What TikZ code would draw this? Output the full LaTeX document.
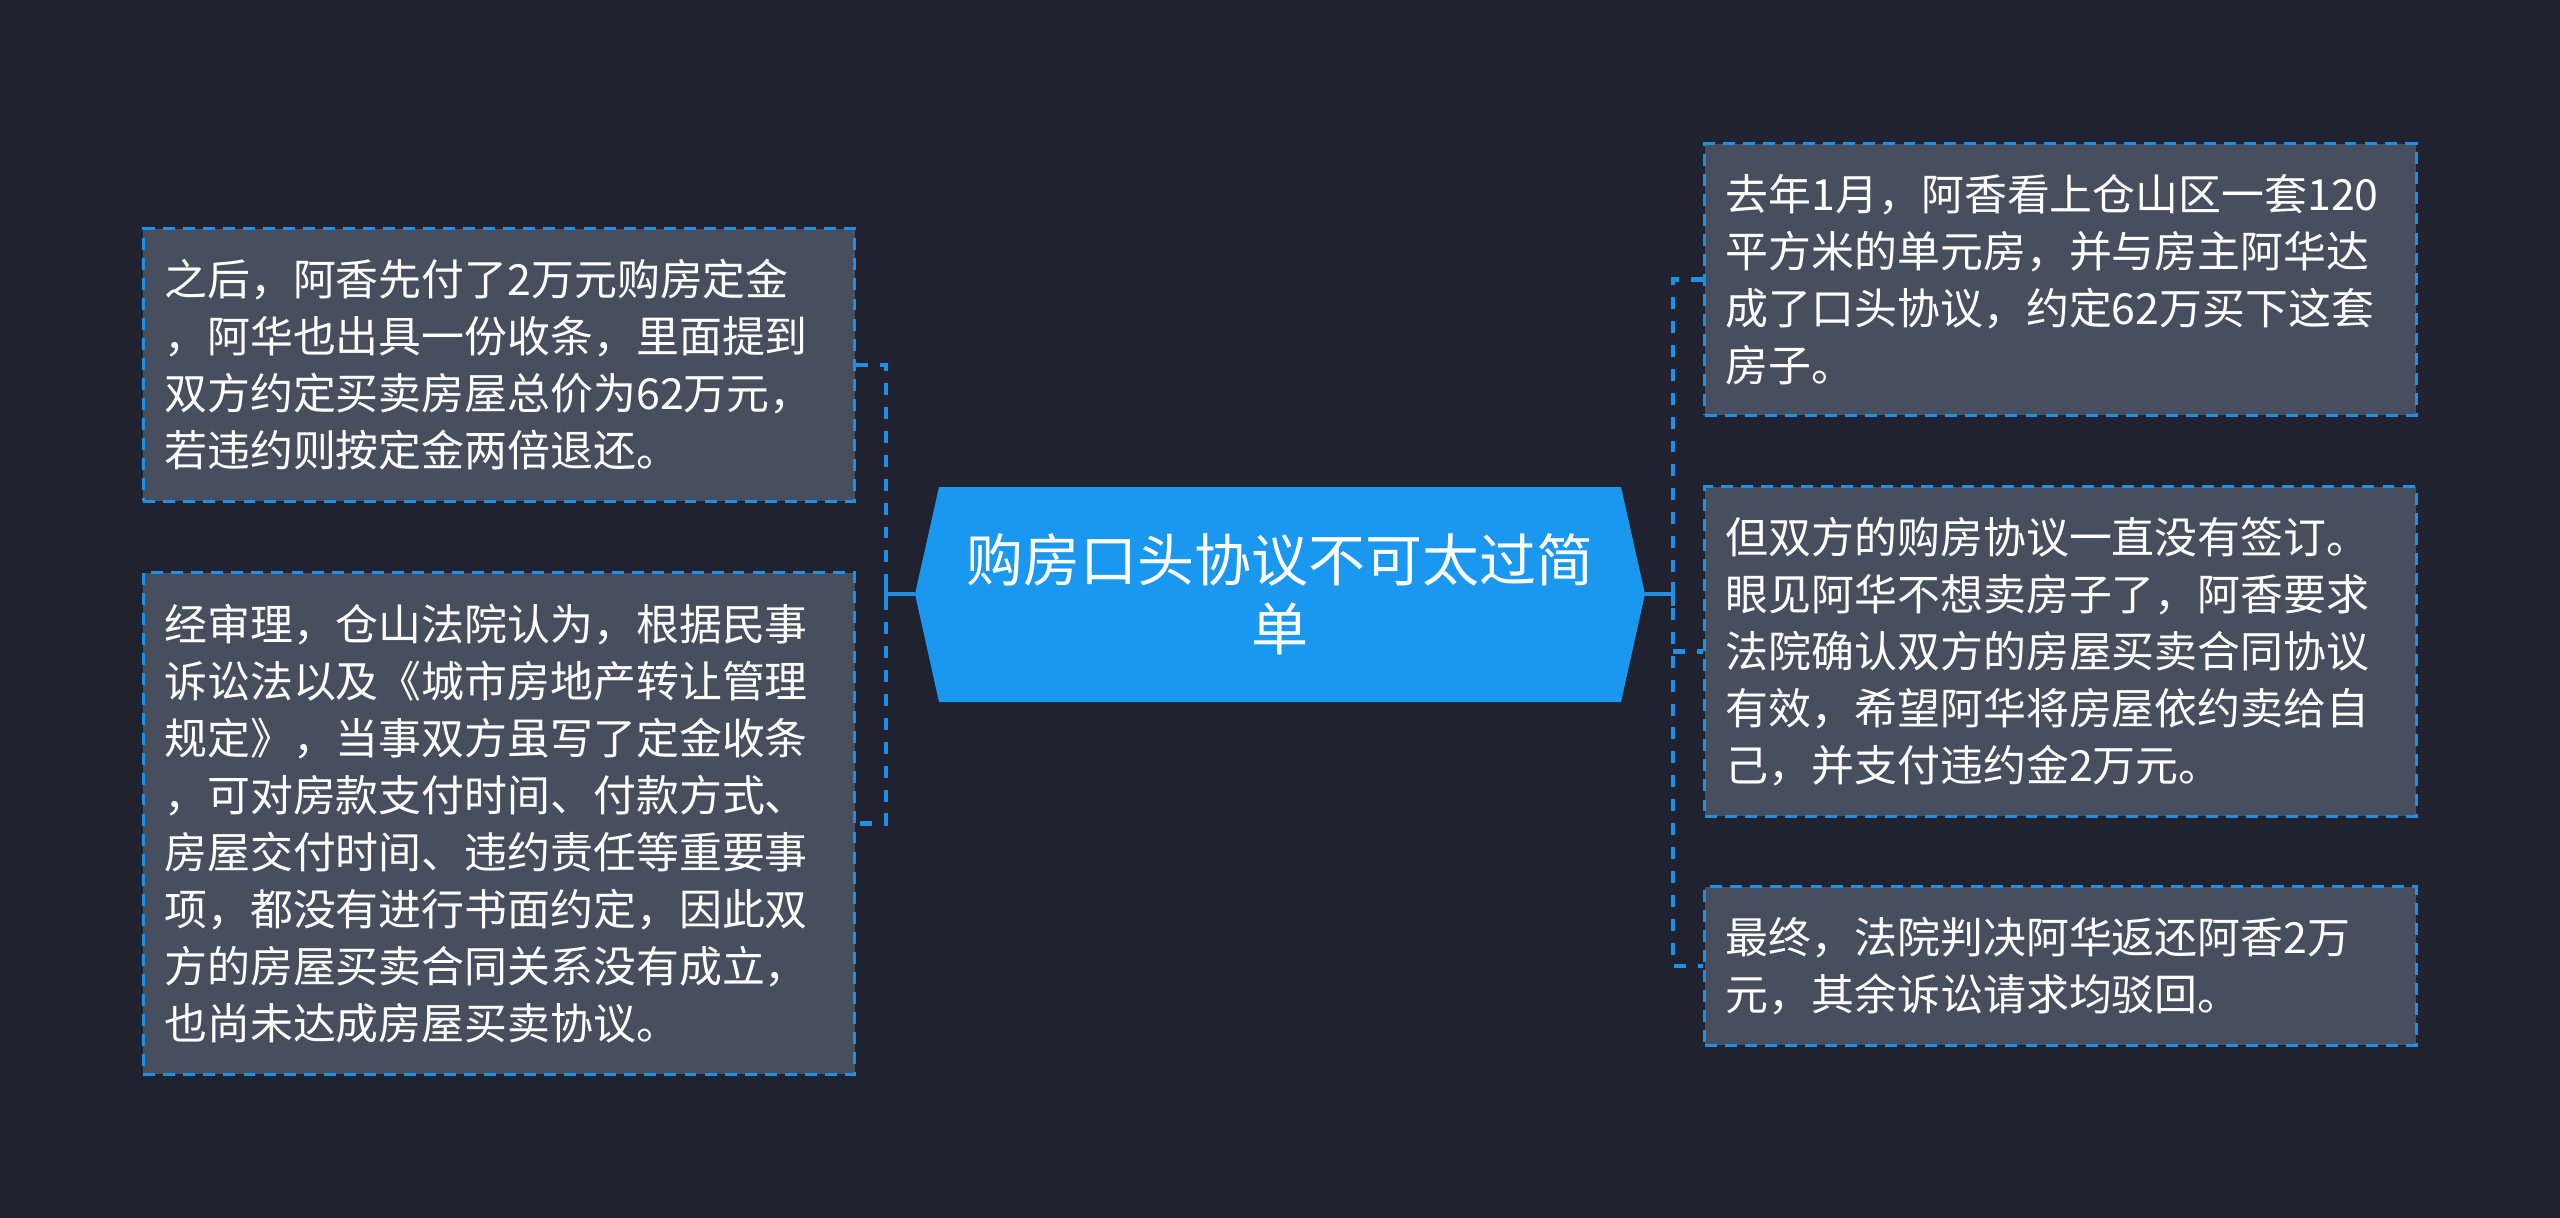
\documentclass[tikz,border=0pt]{standalone}
\usepackage{fontspec}
\setmainfont{Noto Sans CJK SC}
\usetikzlibrary{positioning}
\definecolor{bg}{HTML}{20232F}
\definecolor{cardgray}{HTML}{474E5D}
\definecolor{wire}{HTML}{1E90E6}
\definecolor{hubblue}{HTML}{1A98F0}

\begin{document}
\begin{tikzpicture}[x=0.01cm, y=-0.01cm,
  card/.style={draw=wire, fill=cardgray, line width=0.85pt, dash pattern=on 3.4pt off 2.3pt,
    text=white, align=left, text width=6.69cm, inner xsep=0.21cm, inner ysep=0pt,
    font=\fontsize{12.2pt}{16.2pt}\selectfont},
  hub/.style={text=white, align=center, inner sep=0pt, font=\fontsize{16.2pt}{19.5pt}\selectfont},
  stem/.style={draw=wire, line width=1.4pt},
  trunk/.style={draw=wire, line width=1.4pt, dash pattern=on 3.4pt off 3.4pt}
]
% canvas
\fill[bg] (0,0) rectangle (2560,1218);
\useasboundingbox (0,0) rectangle (2560,1218);
% central topic
\fill[hubblue] (915,594) -- (939,487) -- (1621,487) -- (1645,594) -- (1621,702) -- (939,702) -- cycle;
\node[hub] (hub) at (1280,594) {购房口头协议不可太过简\\单};
\coordinate (hubW) at (915,594);
\coordinate (hubE) at (1645,594);
% left cards
\node[card, minimum height=2.72cm] (lt) at (499,365) {之后，阿香先付了2万元购房定金\\，阿华也出具一份收条，里面提到\\双方约定买卖房屋总价为62万元，\\若违约则按定金两倍退还。};
\node[card, minimum height=5.01cm] (lb) at (499,823.5) {经审理，仓山法院认为，根据民事\\诉讼法以及《城市房地产转让管理\\规定》，当事双方虽写了定金收条\\，可对房款支付时间、付款方式、\\房屋交付时间、违约责任等重要事\\项，都没有进行书面约定，因此双\\方的房屋买卖合同关系没有成立，\\也尚未达成房屋买卖协议。};
% right cards
\node[card, minimum height=2.71cm] (rt) at (2060.5,279.5) {去年1月，阿香看上仓山区一套120\\平方米的单元房，并与房主阿华达\\成了口头协议，约定62万买下这套\\房子。};
\node[card, minimum height=3.29cm] (rm) at (2060.5,651.5) {但双方的购房协议一直没有签订。\\眼见阿华不想卖房子了，阿香要求\\法院确认双方的房屋买卖合同协议\\有效，希望阿华将房屋依约卖给自\\己，并支付违约金2万元。};
\node[card, minimum height=1.58cm] (rb) at (2060.5,966) {最终，法院判决阿华返还阿香2万\\元，其余诉讼请求均驳回。};
% joints
\coordinate (jW) at (886,594);
\coordinate (jE) at (1673,594);
% left branch
\draw[stem] (hubW) -- (jW);
\draw[stem] ([yshift=3.4pt]jW) -- ([yshift=-3.4pt]jW);
\draw[trunk] (lt.east) -- (lt.east -| jW) -- (lb.east -| jW) -- (lb.east);
% right branch
\draw[stem] (hubE) -- (jE);
\draw[stem] ([yshift=3.4pt]jE) -- ([yshift=-3.4pt]jE);
\draw[trunk] (rt.west) -- (rt.west -| jE) -- (rb.west -| jE) -- (rb.west);
\draw[trunk] (rm.west -| jE) -- (rm.west);
\end{tikzpicture}
\end{document}
